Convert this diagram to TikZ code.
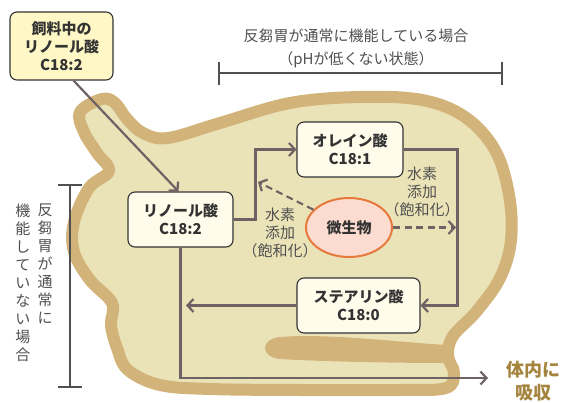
\documentclass[tikz,border=0pt]{standalone}
\usepackage{fontspec}
\setmainfont{Noto Sans CJK JP}
\usetikzlibrary{arrows.meta,shapes.geometric}
\definecolor{wall}{HTML}{D2B47A}
\definecolor{lumen}{HTML}{EAE3B8}
\definecolor{flow}{HTML}{6F6264}
\definecolor{ink}{HTML}{333333}
\definecolor{note}{HTML}{505050}
\definecolor{feedfill}{HTML}{FFF8C6}
\definecolor{acidfill}{HTML}{FFFCEB}
\definecolor{microfill}{HTML}{FCDCD0}
\definecolor{microedge}{HTML}{E8793C}
\definecolor{gold}{HTML}{A5843F}
\begin{document}
\begin{tikzpicture}[x=1pt,y=-1pt,
  acid/.style={draw=ink, line width=1.1pt, rounded corners=7pt, fill=acidfill,
    text=ink, font=\fontsize{15}{18}\selectfont\bfseries, align=center, inner sep=0pt},
  arr/.style={draw=flow, line width=2.2pt,
    -{Straight Barb[length=6pt,width=13pt,line width=2.2pt]}},
  dsh/.style={arr, dash pattern=on 7pt off 4.5pt},
  note/.style={text=note, font=\fontsize{15}{18}\selectfont, align=center, inner sep=0pt},
  bracket/.style={draw=note, line width=1.2pt}
]
\useasboundingbox (0,0) rectangle (575,403);

% rumen wall and lumen
\draw[wall, line width=12pt, fill=lumen, line join=round]
  plot[smooth cycle, tension=0.6] coordinates {
    (102,99) (115,103) (127,119) (143,133) (168,138) (220,123) (290,103)
    (360,97) (422,100) (465,117) (495,150) (509,195) (511,240) (500,278)
    (476,312) (453,336) (448,356) (454,373) (446,388) (400,390) (300,390)
    (210,389) (160,385) (128,370) (117,348) (111,325) (112,303) (90,280)
    (74,252) (74,222) (89,188) (109,171) (97,153) (84,132) (80,112)};
% inner fold of the wall
\fill[wall] (448,345) .. controls (405,343) and (330,333) .. (280,337)
  .. controls (260,339) and (260,357) .. (280,359)
  .. controls (330,362) and (405,363) .. (448,363) -- cycle;

% scale brackets
\draw[bracket] (219,62) -- (219,85);
\draw[bracket] (502,62) -- (502,85);
\draw[bracket] (219,73) -- (502,73);
\draw[bracket] (58,185) -- (82,185);
\draw[bracket] (58,387) -- (82,387);
\draw[bracket] (70,185) -- (70,387);

\node[note, font=\fontsize{15}{23}\selectfont] (normal) at (356,48)
  {反芻胃が通常に機能している場合\\（pHが低くない状態）};
\node[note, anchor=north] (lowA) at (45,204)
  {反\\芻\\胃\\が\\通\\常\\に};
\node[note, anchor=north] (lowB) at (23,204)
  {機\\能\\し\\て\\い\\な\\い\\場\\合};

% fatty acids
\node[acid, fill=feedfill, minimum width=103pt, minimum height=68pt] (feed) at (61.5,46)
  {飼料中の\\リノール酸\\C18:2};
\node[acid, minimum width=105pt, minimum height=55pt] (lin) at (180.5,219.5)
  {リノール酸\\C18:2};
\node[acid, minimum width=106pt, minimum height=55pt] (ole) at (350,149.5)
  {オレイン酸\\C18:1};
\node[acid, minimum width=123pt, minimum height=55pt] (ste) at (358.5,305.5)
  {ステアリン酸\\C18:0};
\node[ellipse, draw=microedge, line width=2pt, fill=microfill, text=ink,
  minimum width=86pt, minimum height=59pt, inner sep=0pt,
  font=\fontsize{15}{18}\selectfont\bfseries] (mic) at (349,227.5) {微生物};

\node[note] (h2a) at (280,233) {水素\\添加\\（飽和化）};
\node[note] (h2b) at (422,192) {水素\\添加\\（飽和化）};
\node[text=gold, font=\fontsize{18}{23}\selectfont\bfseries, align=center, inner sep=0pt]
  (absorb) at (533,381) {体内に\\吸収};

% flows
\coordinate (back) at (186,305.5);
\coordinate (out) at (488,378);
\coordinate (hA) at (258,182);
\coordinate (hB) at (456,227.5);
\draw[arr] ([xshift=12pt]feed.south) -- ([xshift=-2pt]lin.north);
\draw[arr] (lin.east) -- ++(22,0) |- (ole.west);
\draw[arr] (ole.east) -- ++(54,0) |- (ste.east);
\draw[arr] (ste.west) -- (back);
\draw[arr] (lin.south) |- (out);
\draw[dsh] (mic) -- (hA);
\draw[dsh] (mic.east) -- (hB);
\end{tikzpicture}
\end{document}
